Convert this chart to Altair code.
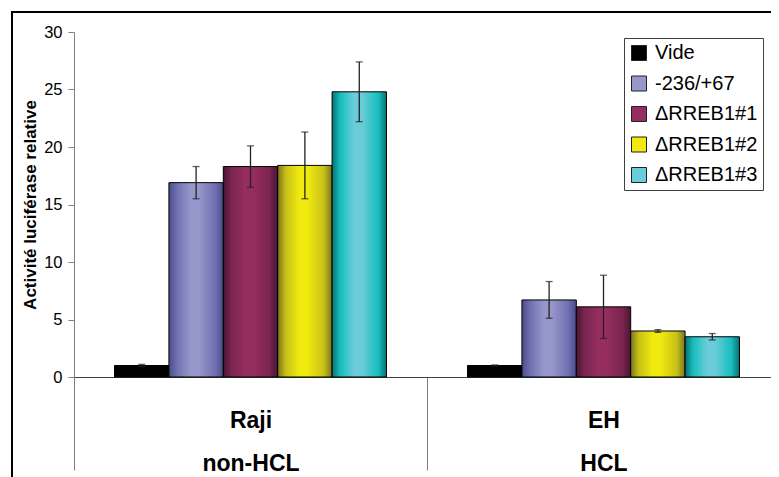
import altair as alt
import pandas as pd

groups = ["Raji|non-HCL", "EH|HCL"]
series = ["Vide", "\u00a0-236/+67", "ΔRREB1#1", "ΔRREB1#2", "ΔRREB1#3"]
raji_values = [1.0, 16.9, 18.3, 18.4, 24.8]
raji_errors = [0.1, 1.4, 1.8, 2.9, 2.6]
eh_values = [1.0, 6.7, 6.1, 4.0, 3.5]
eh_errors = [0.05, 1.6, 2.75, 0.12, 0.28]

light_colors = ["#000000", "#9797CB", "#952E5F", "#F0EA0F", "#6ACCD8"]
mid_colors = ["#000000", "#7070B0", "#7A2450", "#C8C018", "#17BEBE"]
dark_colors = ["#000000", "#4B4C8C", "#4A1630", "#7A7420", "#0A7070"]

rows = []
for g, vals, errs in [(groups[0], raji_values, raji_errors), (groups[1], eh_values, eh_errors)]:
    for s, v, e in zip(series, vals, errs):
        rows.append({"group": g, "series": s, "value": v, "lo": v - e, "hi": v + e})
df = pd.DataFrame(rows)

x_enc = alt.X(
    "group:N",
    sort=groups,
    scale=alt.Scale(domain=groups, range=[0, 706], paddingInner=0, paddingOuter=0),
    axis=alt.Axis(
        title=None,
        labelExpr="split(datum.label, '|')",
        labelAngle=0,
        tickBand="extent",
        tickSize=93,
        tickColor="#808080",
        labelPadding=-61,
        labelFont="Liberation Sans",
        labelFontSize=23,
        labelFontWeight="bold",
        labelLineHeight=43,
        labelColor="black",
        labelBaseline="top",
        domainColor="#404040",
    ),
)
xo_enc = alt.XOffset(
    "series:N",
    sort=series,
    scale=alt.Scale(domain=series, paddingInner=0, paddingOuter=0.745),
)
y_axis = alt.Axis(
    values=[0, 5, 10, 15, 20, 25, 30],
    title="Activité luciférase relative",
    titleFont="Liberation Sans",
    titleFontSize=17,
    titleFontWeight="bold",
    titleColor="black",
    titlePadding=4,
    grid=False,
    tickSize=6,
    tickColor="#808080",
    domainColor="#808080",
    labelFont="Liberation Sans",
    labelFontSize=16.5,
    labelColor="black",
    labelPadding=6,
)
y_scale = alt.Scale(domain=[0, 30])

base = alt.Chart(df)

legend_layer = base.mark_square(opacity=0, size=1).encode(
    x=x_enc,
    xOffset=xo_enc,
    y=alt.Y("value:Q", scale=y_scale, axis=y_axis),
    color=alt.Color(
        "series:N",
        sort=series,
        scale=alt.Scale(domain=series, range=light_colors),
        legend=alt.Legend(
            title=None,
            orient="none",
            legendX=550,
            legendY=6,
            symbolType="square",
            symbolSize=225,
            symbolStrokeColor="#222222",
            symbolStrokeWidth=1,
            symbolOpacity=1,
            labelFont="Liberation Sans",
            labelFontSize=20,
            labelColor="black",
            labelOffset=6,
            rowPadding=10.5,
            padding=5,
            strokeColor="#404040",
            fillColor="white",
            cornerRadius=0,
        ),
    ),
)

layers = [legend_layer]
for s, lc, mc, dc in zip(series, light_colors, mid_colors, dark_colors):
    grad = alt.LinearGradient(
        gradient="linear",
        x1=0, x2=1, y1=0, y2=0,
        stops=[
            alt.GradientStop(color=dc, offset=0),
            alt.GradientStop(color=mc, offset=0.15),
            alt.GradientStop(color=lc, offset=0.4),
            alt.GradientStop(color=lc, offset=0.55),
            alt.GradientStop(color=mc, offset=0.85),
            alt.GradientStop(color=dc, offset=1),
        ],
    )
    layers.append(
        base.transform_filter(alt.datum.series == s)
        .mark_bar(fill=grad, stroke="black", strokeWidth=1)
        .encode(
            x=x_enc,
            xOffset=xo_enc,
            y=alt.Y("value:Q", scale=y_scale, axis=y_axis),
        )
    )

rule_layer = base.mark_rule(color="#222222", strokeWidth=1.3).encode(
    x=x_enc,
    xOffset=xo_enc,
    y=alt.Y("lo:Q", scale=y_scale, axis=y_axis),
    y2="hi:Q",
)
cap_lo = base.mark_tick(color="#222222", size=7, thickness=1.3).encode(
    x=x_enc, xOffset=xo_enc, y=alt.Y("lo:Q", scale=y_scale, axis=y_axis)
)
cap_hi = base.mark_tick(color="#222222", size=7, thickness=1.3).encode(
    x=x_enc, xOffset=xo_enc, y=alt.Y("hi:Q", scale=y_scale, axis=y_axis)
)
layers += [rule_layer, cap_lo, cap_hi]

frame = alt.Chart(pd.DataFrame({"a": [0]})).mark_rect(
    filled=False, stroke="black", strokeWidth=2, clip=False
).encode(
    x=alt.value(-62), x2=alt.value(800), y=alt.value(-20), y2=alt.value(520)
)
layers.append(frame)

chart = (
    alt.layer(*layers)
    .properties(
        width=697,
        height=345,
        autosize=alt.AutoSizeParams(type="none"),
        padding={"left": 66, "top": 24, "right": 0, "bottom": 100},
        background="white",
    )
    .configure_view(stroke=None)
)

chart.save("out.html", embed_options={"renderer": "svg", "actions": False})
